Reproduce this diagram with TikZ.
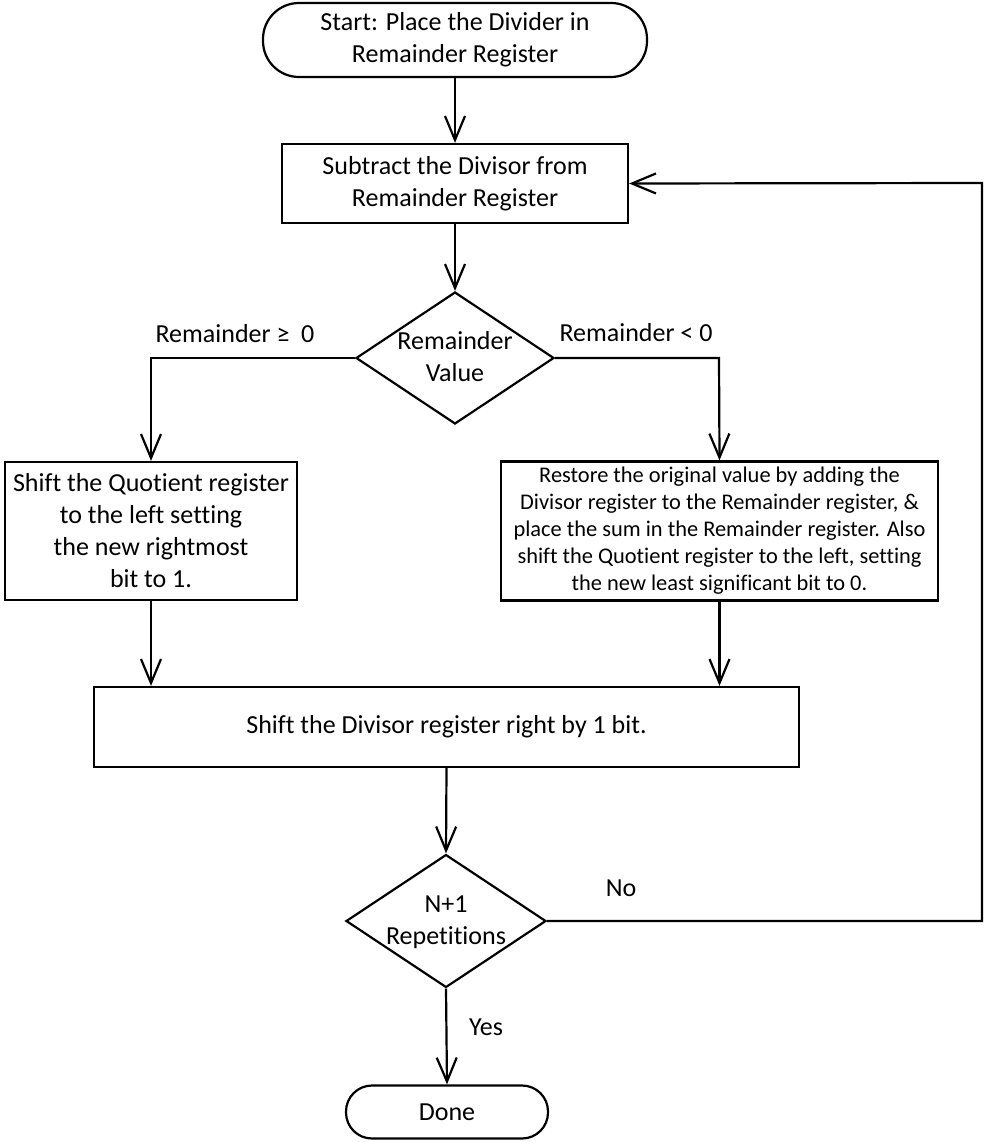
\documentclass[tikz,border=0pt]{standalone}
\usepackage{fontspec}
\setmainfont{Carlito}[Ligatures=NoCommon]
\usetikzlibrary{arrows.meta,shapes.geometric}
\begin{document}
\begin{tikzpicture}[x=1pt,y=-1pt,
  line width=2.2pt,
  every node/.style={font=\fontsize{26}{32}\selectfont},
  term/.style={draw,rounded corners=#1,inner sep=0pt},
  proc/.style={draw,inner sep=0pt},
  decide/.style={draw,shape=diamond,inner sep=0pt},
  flow/.style={-{Straight Barb[length=24pt,width=20pt,line width=2.2pt]}},
  lbl/.style={inner sep=0pt}
]
\useasboundingbox (0,0) rectangle (983,1142);

% start terminal
\node[term=36pt,minimum width=384pt,minimum height=74pt,align=center] (start) at (455,40)
  {Start: Place the Divider in\\Remainder Register};
% subtract step
\node[proc,minimum width=346pt,minimum height=79pt,align=center] (sub) at (455,183.5)
  {Subtract the Divisor from\\Remainder Register};
% remainder test
\node[decide,minimum width=198pt,minimum height=132pt] (rem) at (455,358) {};
\node[align=center,lbl] at (455,357) {Remainder\\Value};
% quotient shift (remainder non-negative)
\node[proc,minimum width=292pt,minimum height=138pt,align=center] (qleft) at (151,531)
  {Shift the Quotient register\\to the left setting\\the new rightmost\\bit to 1.};
% restore step (remainder negative)
\node[proc,minimum width=437pt,minimum height=139pt,align=center,
      font=\fontsize{22.4}{27}\selectfont] (restore) at (719.5,531)
  {Restore the original value by adding the\\
   Divisor register to the Remainder register, \&\\
   place the sum in the Remainder register. Also\\
   shift the Quotient register to the left, setting\\
   the new least significant bit to 0.};
% divisor shift
\node[proc,minimum width=705pt,minimum height=80pt] (shift) at (446.5,727)
  {Shift the Divisor register right by 1 bit.};
% repetition test
\node[decide,minimum width=200pt,minimum height=133pt] (rep) at (446,921) {};
\node[align=center,lbl] at (446,922) {N+1\\Repetitions};
% done terminal
\node[term=26pt,minimum width=202pt,minimum height=53pt] (done) at (447,1112) {Done};

% corner points of the branches and the loop
\coordinate (lc) at (151,358);
\coordinate (rc) at (719,358);
\coordinate (loopA) at (982,921);
\coordinate (loopB) at (982,183);

\draw[flow] (start.south) -- (sub.north);
\draw[flow] (sub.south) -- (rem.north);
\draw[flow] (rem.west) -- (lc) -- (qleft.north);
\draw[flow] (rem.east) -- (rc) -- (restore.north);
\draw[flow] (qleft.south) -- (qleft.south |- shift.north);
\draw[flow] (restore.south) -- (restore.south |- shift.north);
\draw[flow] (shift.south) -- (rep.north);
\draw[flow] (rep.south) -- (done.north);
\draw[flow] (rep.east) -- (loopA) -- (loopB) -- (sub.east);

% branch labels
\node[lbl] at (235,334) {Remainder ≥\ \ 0};
\node[lbl] at (636,333) {Remainder < 0};
\node[lbl] at (621,888) {No};
\node[lbl] at (486,1027) {Yes};
\end{tikzpicture}
\end{document}
